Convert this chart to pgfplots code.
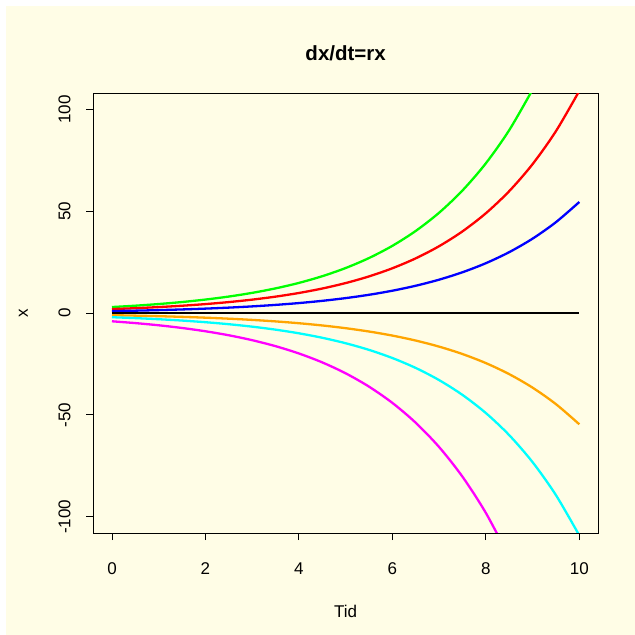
\documentclass[border=0pt]{standalone}
\usepackage{fontspec}
\setmainfont{Liberation Sans}
\usepackage{pgfplots}
\pgfplotsset{compat=1.18}

\definecolor{bgyellow}{RGB}{255,253,230}
\definecolor{rorange}{RGB}{255,165,0}
\definecolor{rgreen}{RGB}{0,255,0}
\definecolor{rred}{RGB}{255,0,0}
\definecolor{rblue}{RGB}{0,0,255}
\definecolor{rcyan}{RGB}{0,255,255}
\definecolor{rmagenta}{RGB}{255,0,255}

% dx/dt = r x (r about 0.4)
\pgfplotstableread{
t blue red green
0 1 2 3
0.5 1.2214 2.443 3.664
1 1.4918 2.984 4.475
1.5 1.8221 3.644 5.466
2 2.2255 4.451 6.677
2.5 2.7183 5.437 8.155
3 3.3201 6.640 9.960
3.5 4.0552 8.110 12.166
4 4.9530 9.906 14.859
4.5 6.0496 12.099 18.149
5 7.3891 14.778 22.167
5.5 9.0250 18.050 27.075
6 11.0232 22.046 33.070
6.5 13.4637 26.927 40.391
7 16.4446 32.889 49.334
7.5 20.0855 40.171 60.257
8 24.5325 49.065 73.598
8.5 29.9641 59.928 89.892
9 36.5982 73.196 109.795
9.5 44.7012 89.402 nan
10 54.5982 109.196 nan
}\pos

\pgfplotstableread{
t orange cyan magenta
0 -1 -2 -4
0.5 -1.2214 -2.443 -4.886
1 -1.4918 -2.984 -5.967
1.5 -1.8221 -3.644 -7.288
2 -2.2255 -4.451 -8.902
2.5 -2.7183 -5.437 -10.873
3 -3.3201 -6.640 -13.280
3.5 -4.0552 -8.110 -16.221
4 -4.9530 -9.906 -19.812
4.5 -6.0496 -12.099 -24.198
5 -7.3891 -14.778 -29.556
5.5 -9.0250 -18.050 -36.100
6 -11.0232 -22.046 -44.093
6.5 -13.4637 -26.927 -53.855
7 -16.4446 -32.889 -65.778
7.5 -20.0855 -40.171 -80.342
8 -24.5325 -49.065 -98.130
8.5 -29.9641 -59.928 -119.856
9 -36.5982 -73.196 nan
9.5 -44.7012 -89.402 nan
10 -54.5982 -109.196 nan
}\neg

\begin{document}
\begin{tikzpicture}
\path[use as bounding box] (0,0) rectangle (635bp,635bp);
\fill[white] (0,0) rectangle (635bp,635bp);
\fill[bgyellow] (6bp,0) rectangle (635bp,629bp);

\begin{axis}[
at={(93.3bp,102bp)}, anchor=south west,
width=504.7bp, height=439.7bp, scale only axis,
xmin=-0.4, xmax=10.4,
ymin=-108, ymax=108,
xtick={0,2,4,6,8,10},
ytick={-100,-50,0,50,100},
axis line style={black, line width=0.9bp},
every tick/.style={black, line width=0.9bp},
tick align=outside,
tick pos=left,
major tick length=7.2bp,
/pgf/number format/assume math mode=true,
every tick label/.append style={font=\fontsize{17bp}{20bp}\selectfont},
xticklabel shift=19bp,
yticklabel style={rotate=90, anchor=south},
yticklabel shift=12bp,
title={dx/dt=rx},
title style={at={(axis description cs:0.5,1.077)}, anchor=center,
  font=\fontsize{20.5bp}{24bp}\selectfont\bfseries},
xlabel={Tid},
xlabel style={at={(axis description cs:0.5,-0.1785)}, anchor=center,
  font=\fontsize{17bp}{20bp}\selectfont},
ylabel={x},
ylabel style={at={(axis description cs:-0.1387,0.5)}, anchor=center, rotate=0,
  font=\fontsize{17bp}{20bp}\selectfont},
every axis plot/.append style={line width=2.3bp, smooth, tension=0.5},
]
\addplot[rgreen, no marks] table[x=t, y=green] {\pos};
\addplot[rred, no marks] table[x=t, y=red] {\pos};
\addplot[rblue, no marks] table[x=t, y=blue] {\pos};
\addplot[black, no marks] coordinates {(0,0) (10,0)};
\addplot[rorange, no marks] table[x=t, y=orange] {\neg};
\addplot[rcyan, no marks] table[x=t, y=cyan] {\neg};
\addplot[rmagenta, no marks] table[x=t, y=magenta] {\neg};
\end{axis}
\end{tikzpicture}
\end{document}
